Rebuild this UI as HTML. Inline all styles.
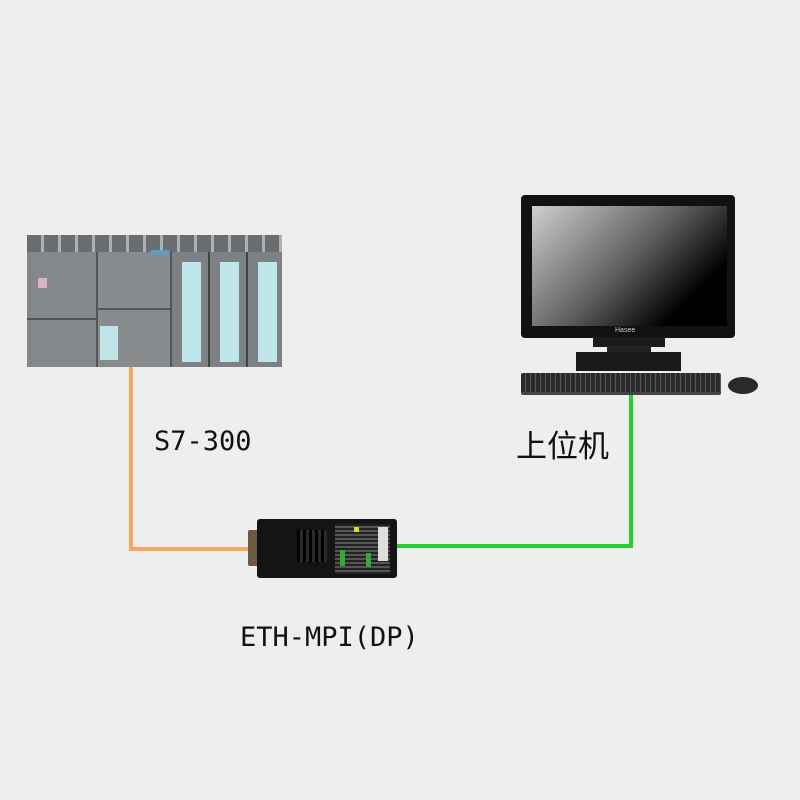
<!DOCTYPE html>
<html><head><meta charset="utf-8"><style>
body{margin:0;width:800px;height:800px;background:#eeeeee;position:relative;overflow:hidden;font-family:"Liberation Sans","Noto Sans CJK SC",sans-serif}
div{position:absolute;box-sizing:border-box}
.t{color:#111;white-space:nowrap}
</style></head><body>
<!-- connectors -->
<div style="left:129px;top:366px;width:4px;height:185px;background:#f6a65a"></div>
<div style="left:129px;top:547px;width:125px;height:4px;background:#f6a65a"></div>
<div style="left:396px;top:544px;width:237px;height:4px;background:#27cc33"></div>
<div style="left:629px;top:394px;width:4px;height:154px;background:#27cc33"></div>

<!-- PLC -->
<div style="left:27px;top:235px;width:255px;height:18px;background:repeating-linear-gradient(90deg,#6a6d70 0 14px,#aeb1b3 14px 17px),#888"></div>
<div style="left:27px;top:252px;width:71px;height:115px;background:#85888b;border-right:2px solid #555"></div>
<div style="left:27px;top:318px;width:71px;height:2px;background:#555"></div>
<div style="left:38px;top:278px;width:9px;height:10px;background:#d9b3c2"></div>
<div style="left:98px;top:252px;width:74px;height:115px;background:#888b8e;border-right:2px solid #555"></div>
<div style="left:98px;top:308px;width:74px;height:2px;background:#555"></div>
<div style="left:100px;top:326px;width:18px;height:34px;background:#bfe3e6"></div>
<div style="left:151px;top:250px;width:18px;height:5px;background:#5d9cc4"></div>
<div style="left:172px;top:252px;width:38px;height:115px;background:#7e8184;border-right:2px solid #444"></div>
<div style="left:182px;top:262px;width:19px;height:100px;background:#bfe6e8"></div>
<div style="left:210px;top:252px;width:38px;height:115px;background:#7e8184;border-right:2px solid #444"></div>
<div style="left:220px;top:262px;width:19px;height:100px;background:#bfe6e8"></div>
<div style="left:248px;top:252px;width:34px;height:115px;background:#7e8184"></div>
<div style="left:258px;top:262px;width:19px;height:100px;background:#bfe6e8"></div>

<!-- ETH-MPI device -->
<div style="left:248px;top:530px;width:12px;height:36px;background:#6b5a40;border-radius:2px"></div>
<div style="left:257px;top:519px;width:140px;height:59px;background:#141414;border-radius:3px"></div>
<div style="left:297px;top:530px;width:30px;height:32px;background:repeating-linear-gradient(90deg,#000 0 3px,#2a2a2a 3px 6px)"></div>
<div style="left:335px;top:524px;width:55px;height:50px;background:repeating-linear-gradient(0deg,#222 0 2px,#555 2px 4px)"></div>
<div style="left:340px;top:550px;width:5px;height:16px;background:#3a3"></div>
<div style="left:366px;top:553px;width:5px;height:14px;background:#3a3"></div>
<div style="left:354px;top:527px;width:5px;height:5px;background:#dd2"></div>
<div style="left:378px;top:527px;width:10px;height:34px;background:#ddd"></div>

<!-- Monitor -->
<div style="left:521px;top:195px;width:214px;height:143px;background:#111;border-radius:4px"></div>
<div style="left:532px;top:206px;width:195px;height:120px;background:linear-gradient(135deg,#cfcfcf 0%,#666 45%,#000 80%)"></div>
<div class="t" style="left:615px;top:327px;font-size:7px;color:#ccc">Hasee</div>
<div style="left:593px;top:337px;width:72px;height:10px;background:#1a1a1a"></div>
<div style="left:607px;top:345px;width:44px;height:10px;background:#222"></div>
<div style="left:576px;top:352px;width:105px;height:19px;background:#1a1a1a"></div>
<div style="left:521px;top:373px;width:200px;height:22px;background:repeating-linear-gradient(90deg,#2a2a2a 0 4px,#555 4px 5px);border-radius:2px;border-bottom:3px solid #444"></div>
<div style="left:728px;top:377px;width:30px;height:17px;background:#2a2a2a;border-radius:50%"></div>

<!-- labels -->
<div class="t" style="left:154px;top:426px;font-size:27px;font-family:'DejaVu Sans Mono','Liberation Mono',monospace">S7-300</div>
<div class="t" style="left:516px;top:421px;font-size:31px">上位机</div>
<div class="t" style="left:240px;top:622px;font-size:27px;font-family:'DejaVu Sans Mono','Liberation Mono',monospace">ETH-MPI(DP)</div>
</body></html>
